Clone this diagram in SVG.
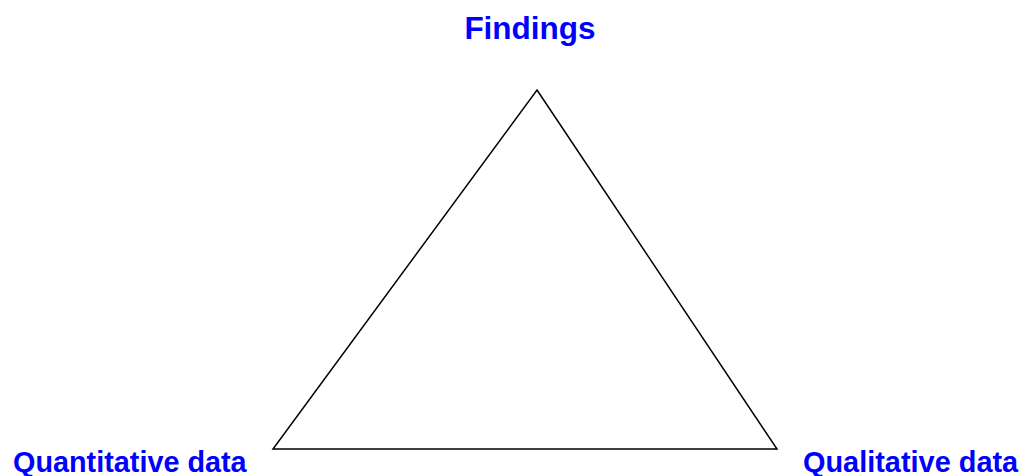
<svg xmlns="http://www.w3.org/2000/svg" width="1025" height="476" viewBox="0 0 1025 476">
<style>
.lbl{font-family:"Liberation Sans",Arial,sans-serif;font-weight:bold;fill:#0000ff}
.edge{stroke:#000;stroke-width:1.5;fill:none;stroke-linejoin:miter}
</style>
<rect width="1025" height="476" fill="#fff"/>
<g id="connectors">
<path class="edge" d="M537,90 L777,449 L273,449 Z"/>
</g>
<g id="node-findings"><text class="lbl" x="530" y="38.5" font-size="31.5" text-anchor="middle">Findings</text></g>
<g id="node-quantitative"><text class="lbl" x="13" y="472" font-size="28.8">Quantitative data</text></g>
<g id="node-qualitative"><text class="lbl" x="803" y="472" font-size="28.9">Qualitative data</text></g>
</svg>
